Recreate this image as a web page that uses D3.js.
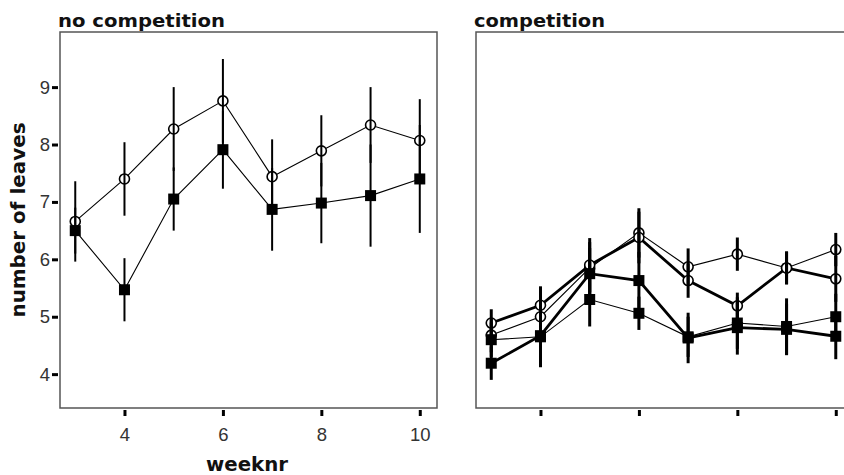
<!DOCTYPE html>
<html>
<head>
<meta charset="utf-8">
<script src="https://cdn.jsdelivr.net/npm/d3@7"></script>
<style>
  html, body { margin: 0; padding: 0; background: #fff; overflow: hidden; }
  svg { display: block; }
</style>
</head>
<body>
<svg id="chart" width="844" height="475"></svg>
<script>
// ---- data ----
const weeks = [3, 4, 5, 6, 7, 8, 9, 10];
const xTickValues = [4, 6, 8, 10];
const yTickValues = [4, 5, 6, 7, 8, 9];
const panelTitles = ["no competition", "competition"];

// no competition panel
const noCompCircleMean = [6.66, 7.40, 8.27, 8.76, 7.44, 7.89, 8.34, 8.07];
const noCompCircleErr  = [0.70, 0.64, 0.73, 0.73, 0.65, 0.62, 0.66, 0.72];
const noCompSquareMean = [6.50, 5.47, 7.05, 7.91, 6.87, 6.98, 7.11, 7.40];
const noCompSquareErr  = [0.40, 0.55, 0.55, 0.68, 0.72, 0.70, 0.89, 0.94];

// competition panel
const compCircleThinMean  = [4.68, 5.00, 5.85, 6.46, 5.87, 6.09, 5.85, 6.17];
const compCircleThinErr   = [0.30, 0.35, 0.45, 0.43, 0.32, 0.29, 0.29, 0.29];
const compCircleThickMean = [4.89, 5.20, 5.90, 6.38, 5.63, 5.19, 5.85, 5.66];
const compCircleThickErr  = [0.24, 0.33, 0.47, 0.45, 0.30, 0.23, 0.28, 0.40];
const compSquareThinMean  = [4.60, 4.65, 5.30, 5.06, 4.65, 4.89, 4.83, 5.00];
const compSquareThinErr   = [0.30, 0.50, 0.47, 0.29, 0.35, 0.45, 0.49, 0.40];
const compSquareThickMean = [4.19, 4.67, 5.75, 5.63, 4.63, 4.81, 4.78, 4.66];
const compSquareThickErr  = [0.29, 0.55, 0.45, 0.50, 0.44, 0.47, 0.45, 0.40];

// ---- layout ----
const svg = d3.select("#chart");
const panelW = 377, panelH = 376, panelTop = 32;
const panelLefts = [60, 476];

const x = d3.scaleLinear().domain([2.69, 10.35]).range([0, panelW]);
const y = d3.scaleLinear().domain([3.41, 9.96]).range([panelH, 0]);

function mkSeries(means, errs, shape, thick) {
  return weeks.map((w, i) => ({ w, m: means[i], e: errs[i], shape, thick }));
}

const panels = [
  [
    mkSeries(noCompCircleMean, noCompCircleErr, "circle", false),
    mkSeries(noCompSquareMean, noCompSquareErr, "square", false)
  ],
  [
    mkSeries(compCircleThinMean, compCircleThinErr, "circle", false),
    mkSeries(compSquareThinMean, compSquareThinErr, "square", false),
    mkSeries(compCircleThickMean, compCircleThickErr, "circle", true),
    mkSeries(compSquareThickMean, compSquareThickErr, "square", true)
  ]
];

const tickFont = "Liberation Sans, Arial, sans-serif";

panels.forEach((series, pi) => {
  const g = svg.append("g").attr("transform", `translate(${panelLefts[pi]},${panelTop})`);

  // box
  g.append("rect")
    .attr("x", 0).attr("y", 0).attr("width", panelW).attr("height", panelH)
    .attr("fill", "none").attr("stroke", "#555").attr("stroke-width", 1.5);

  // x axis (ticks)
  const xa = g.append("g").attr("transform", `translate(0,${panelH + 2})`)
    .call(d3.axisBottom(x).tickValues(xTickValues).tickFormat(d3.format("d"))
      .tickSizeInner(6).tickSizeOuter(0).tickPadding(12));
  xa.select(".domain").remove();
  xa.selectAll(".tick line").attr("stroke", "#000").attr("stroke-width", 3);
  xa.selectAll(".tick text")
    .attr("font-family", tickFont).attr("font-size", 18.5).attr("fill", "#333");
  if (pi === 1) xa.selectAll(".tick text").remove();

  if (pi === 0) {
    const ya = g.append("g").attr("transform", `translate(-2,0)`)
      .call(d3.axisLeft(y).tickValues(yTickValues).tickFormat(d3.format("d"))
        .tickSizeInner(6).tickSizeOuter(0).tickPadding(2));
    ya.select(".domain").remove();
    ya.selectAll(".tick line").attr("stroke", "#000").attr("stroke-width", 3);
    ya.selectAll(".tick text")
      .attr("font-family", tickFont).attr("font-size", 18.5).attr("fill", "#333");
  }

  // title
  svg.append("text")
    .attr("x", panelLefts[pi] - 2).attr("y", 27)
    .attr("font-family", "DejaVu Sans, sans-serif").attr("font-weight", "bold")
    .attr("font-size", 18).attr("fill", "#111")
    .attr("textLength", pi === 0 ? 167 : 131).attr("lengthAdjust", "spacingAndGlyphs")
    .text(panelTitles[pi]);

  const line = d3.line().x(d => x(d.w)).y(d => y(d.m));

  // lines
  series.forEach(s => {
    g.append("path").datum(s)
      .attr("d", line).attr("fill", "none").attr("stroke", "#000")
      .attr("stroke-width", s[0].thick ? 2.8 : 1.1);
  });

  // markers
  series.forEach(s => {
    s.forEach(d => {
      if (d.shape === "circle") {
        g.append("circle").attr("cx", x(d.w)).attr("cy", y(d.m)).attr("r", 5)
          .attr("fill", "#fff").attr("stroke", "#000").attr("stroke-width", 1.6);
      } else {
        g.append("rect").attr("x", x(d.w) - 5.5).attr("y", y(d.m) - 5.5)
          .attr("width", 11).attr("height", 11).attr("fill", "#000");
      }
    });
  });

  // error bars
  series.forEach(s => {
    s.forEach(d => {
      g.append("line")
        .attr("x1", x(d.w)).attr("x2", x(d.w))
        .attr("y1", y(d.m + d.e)).attr("y2", y(d.m - d.e))
        .attr("stroke", "#000").attr("stroke-width", pi === 0 ? 2 : 3);
    });
  });
});

// axis titles
svg.append("text")
  .attr("x", 247).attr("y", 471).attr("text-anchor", "middle")
  .attr("font-family", "DejaVu Sans, sans-serif").attr("font-weight", "bold")
  .attr("font-size", 19).attr("fill", "#111")
  .attr("textLength", 82).attr("lengthAdjust", "spacingAndGlyphs")
  .text("weeknr");

svg.append("text")
  .attr("transform", "translate(25,220) rotate(-90)")
  .attr("text-anchor", "middle")
  .attr("font-family", "DejaVu Sans, sans-serif").attr("font-weight", "bold")
  .attr("font-size", 19).attr("fill", "#111")
  .attr("textLength", 195).attr("lengthAdjust", "spacingAndGlyphs")
  .text("number of leaves");
</script>
</body>
</html>
